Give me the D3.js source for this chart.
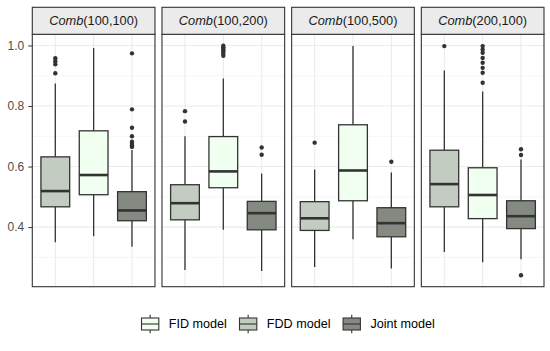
<!DOCTYPE html>
<html><head><meta charset="utf-8">
<script src="https://cdn.jsdelivr.net/npm/d3@7"></script>
<style>body{margin:0;background:#fff}svg{display:block}text{font-family:Arial,"Liberation Sans",sans-serif}</style>
</head><body><svg id="c" width="550" height="351"></svg>
<script>
// ---- data ----
const panelLabels = ["(100,100)", "(100,200)", "(100,500)", "(200,100)"];
const models = ["FDD model", "FID model", "Joint model"];        // x order inside each panel
const legendOrder = ["FID model", "FDD model", "Joint model"];
const fills = {"FID model": "#F0FFF0", "FDD model": "#C2CCC1", "Joint model": "#848A82"};
// per panel, per model (FDD, FID, Joint)
const whiskerLow  = [[0.350,0.370,0.335],[0.258,0.391,0.255],[0.268,0.360,0.263],[0.318,0.284,0.294]];
const q1          = [[0.467,0.507,0.421],[0.424,0.530,0.391],[0.389,0.487,0.368],[0.467,0.428,0.395]];
const median      = [[0.519,0.572,0.455],[0.479,0.584,0.446],[0.429,0.587,0.413],[0.542,0.506,0.436]];
const q3          = [[0.632,0.718,0.517],[0.540,0.699,0.485],[0.484,0.738,0.464],[0.654,0.596,0.487]];
const whiskerHigh = [[0.874,0.992,0.655],[0.700,0.891,0.577],[0.590,0.998,0.580],[0.917,0.848,0.623]];
const outliers = [
  [[0.958,0.948,0.938,0.908],[],[0.974,0.789,0.728,0.700,0.682,0.675,0.670,0.665]],
  [[0.783,0.749],[0.999,0.994,0.989,0.984,0.979,0.973,0.966],[0.663,0.639]],
  [[0.679],[],[0.616]],
  [[0.998],[0.998,0.987,0.976,0.959,0.943,0.926,0.910,0.877],[0.657,0.638,0.241]]
];
const yTicks = [0.4, 0.6, 0.8, 1.0];
const yMinor = [0.3, 0.5, 0.7, 0.9];

// ---- layout ----
const svg = d3.select("#c");
const mLeft = 32.3, mRight = 544, mTop = 7.3, stripH = 27, mBottom = 286.7, gap = 7;
const pw = (mRight - mLeft - gap * 3) / 4;
const allVals = [].concat(...whiskerLow.flat(), ...whiskerHigh.flat(), ...outliers.flat(2));
const lo = d3.min(allVals), hi = d3.max(allVals), ex = (hi - lo) * 0.05;
const y = d3.scaleLinear().domain([lo - ex, hi + ex]).range([mBottom, mTop + stripH]);

// y axis
const yAxis = d3.axisLeft(y).tickValues(yTicks).tickFormat(d3.format(".1f")).tickSize(4).tickPadding(4);
const ga = svg.append("g").attr("transform", `translate(${mLeft},0)`).call(yAxis);
ga.select(".domain").remove();
ga.selectAll(".tick line").attr("stroke", "#333").attr("stroke-width", 1);
ga.selectAll(".tick text").attr("fill", "#4D4D4D").style("font-size", "12px");

panelLabels.forEach((lab, p) => {
  const x0 = mLeft + p * (pw + gap);
  const x = d3.scalePoint().domain(models).range([x0, x0 + pw]).padding(0.6);
  const bw = x.step() * 0.75;
  const g = svg.append("g");
  // grid
  g.selectAll(".mi").data(yMinor).join("line")
    .attr("x1", x0).attr("x2", x0 + pw).attr("y1", d => y(d)).attr("y2", d => y(d))
    .attr("stroke", "#F2F2F2").attr("stroke-width", 0.7);
  g.selectAll(".ma").data(yTicks).join("line")
    .attr("x1", x0).attr("x2", x0 + pw).attr("y1", d => y(d)).attr("y2", d => y(d))
    .attr("stroke", "#EBEBEB").attr("stroke-width", 1.1);
  g.selectAll(".vx").data(models).join("line")
    .attr("x1", d => x(d)).attr("x2", d => x(d)).attr("y1", mTop + stripH).attr("y2", mBottom)
    .attr("stroke", "#EBEBEB").attr("stroke-width", 1.1);
  // boxes
  models.forEach((m, i) => {
    const cx = x(m);
    g.append("line").attr("x1", cx).attr("x2", cx).attr("y1", y(whiskerHigh[p][i])).attr("y2", y(q3[p][i]))
      .attr("stroke", "#333").attr("stroke-width", 1.3);
    g.append("line").attr("x1", cx).attr("x2", cx).attr("y1", y(q1[p][i])).attr("y2", y(whiskerLow[p][i]))
      .attr("stroke", "#333").attr("stroke-width", 1.3);
    g.append("rect").attr("x", cx - bw / 2).attr("width", bw)
      .attr("y", y(q3[p][i])).attr("height", y(q1[p][i]) - y(q3[p][i]))
      .attr("fill", fills[m]).attr("stroke", "#333").attr("stroke-width", 1.3);
    g.append("line").attr("x1", cx - bw / 2).attr("x2", cx + bw / 2)
      .attr("y1", y(median[p][i])).attr("y2", y(median[p][i]))
      .attr("stroke", "#333").attr("stroke-width", 2.6);
    g.selectAll(null).data(outliers[p][i]).join("circle")
      .attr("cx", cx).attr("cy", d => y(d)).attr("r", 2.2).attr("fill", "#333");
  });
  // panel border
  g.append("rect").attr("x", x0).attr("y", mTop + stripH).attr("width", pw).attr("height", mBottom - mTop - stripH)
    .attr("fill", "none").attr("stroke", "#333").attr("stroke-width", 1.1);
  // strip
  g.append("rect").attr("x", x0).attr("y", mTop).attr("width", pw).attr("height", stripH)
    .attr("fill", "#EBEBEB").attr("stroke", "#333").attr("stroke-width", 1.1);
  const t = g.append("text").attr("x", x0 + pw / 2).attr("y", mTop + stripH / 2 + 4.5)
    .attr("text-anchor", "middle").attr("fill", "#1A1A1A").style("font-size", "12.8px");
  t.append("tspan").style("font-style", "italic").text("Comb");
  t.append("tspan").text(lab);
});

// legend
const lg = svg.append("g");
const ky = 324, kw = 17.3;
let xx = 0;
legendOrder.forEach(m => {
  const it = lg.append("g");
  it.append("line").attr("x1", kw / 2).attr("x2", kw / 2).attr("y1", ky - 9.3).attr("y2", ky + 9.3)
    .attr("stroke", "#333").attr("stroke-width", 1.1);
  it.append("rect").attr("x", 0).attr("y", ky - 6).attr("width", kw).attr("height", 12)
    .attr("fill", fills[m]).attr("stroke", "#333").attr("stroke-width", 1.1);
  it.append("line").attr("x1", 0).attr("x2", kw).attr("y1", ky).attr("y2", ky)
    .attr("stroke", "#333").attr("stroke-width", 1.1);
  const tx = it.append("text").attr("x", kw + 10).attr("y", ky + 4.4).attr("fill", "#000")
    .style("font-size", "12.6px").text(m);
  const w = kw + 10 + tx.node().getComputedTextLength();
  it.attr("transform", `translate(${xx},0)`);
  xx += w + 12.6;
});
const total = xx - 12.6;
lg.attr("transform", `translate(${(mLeft + mRight) / 2 - total / 2},0)`);
</script></body></html>
